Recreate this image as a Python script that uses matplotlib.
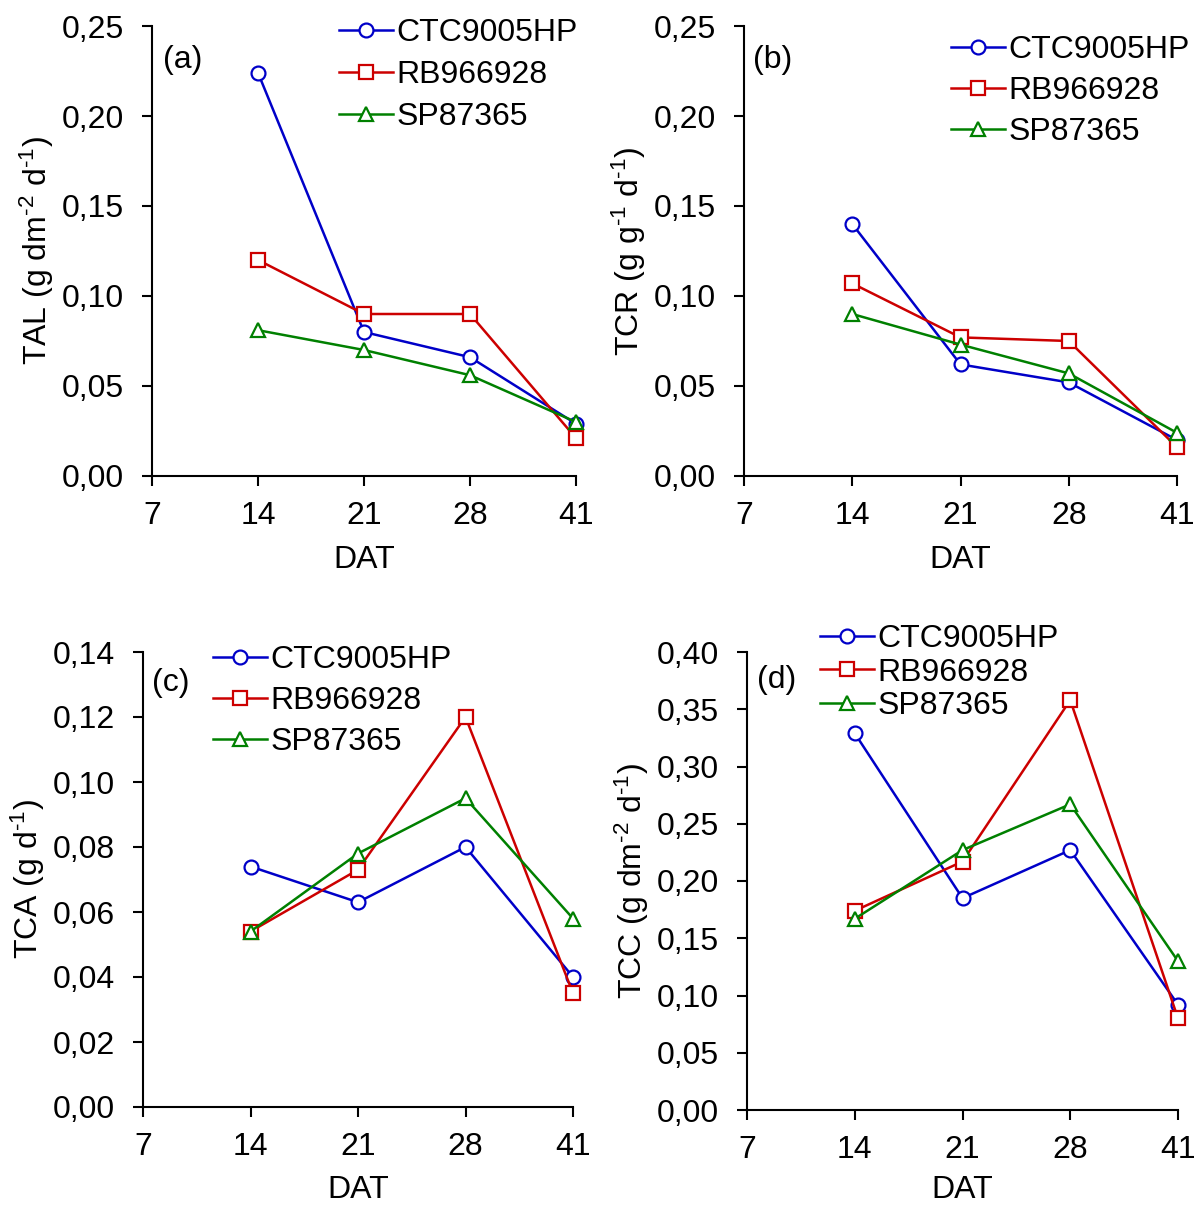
import numpy as np
import matplotlib
matplotlib.use("Agg")
import matplotlib.pyplot as plt
from matplotlib.ticker import FuncFormatter

plt.rcParams['font.family'] = ['Liberation Sans', 'DejaVu Sans']
plt.rcParams['mathtext.default'] = 'regular'
plt.rcParams['font.size'] = 23

#%% datos
dat_labels = ['7', '14', '21', '28', '41']
cultivares = ['CTC9005HP', 'RB966928', 'SP87365']

tal_ctc = [0.224, 0.080, 0.066, 0.029]
tal_rb = [0.120, 0.090, 0.090, 0.021]
tal_sp = [0.081, 0.070, 0.056, 0.030]

tcr_ctc = [0.140, 0.062, 0.052, 0.020]
tcr_rb = [0.107, 0.077, 0.075, 0.016]
tcr_sp = [0.090, 0.073, 0.057, 0.024]

tca_ctc = [0.074, 0.063, 0.080, 0.040]
tca_rb = [0.054, 0.073, 0.120, 0.035]
tca_sp = [0.054, 0.078, 0.095, 0.058]

tcc_ctc = [0.329, 0.185, 0.227, 0.092]
tcc_rb = [0.174, 0.217, 0.358, 0.080]
tcc_sp = [0.167, 0.227, 0.267, 0.130]

colores = ['#0000C8', '#CC0000', '#008000']
marcadores = ['o', 's', '^']

W, H = 1203, 1205
fig = plt.figure(figsize=(W / 100, H / 100), dpi=100)


def px_ax(left, right, bottom, top):
    return [left / W, 1 - bottom / H, (right - left) / W, (bottom - top) / H]


hy = '\u2010'  # guion como en el original
paneles = [
    dict(pos=px_ax(152, 576, 476, 26), datos=[tal_ctc, tal_rb, tal_sp], ymax=0.25, paso=0.05,
         ylabel=f'TAL (g dm$^{{{hy}2}}$ d$^{{{hy}1}}$)', letra='(a)', letra_xy=(163, 60),
         leg_xy=(339, 18), leg_sp=0.38, xlpad=10),
    dict(pos=px_ax(744, 1177, 476, 26), datos=[tcr_ctc, tcr_rb, tcr_sp], ymax=0.25, paso=0.05,
         ylabel=f'TCR (g g$^{{{hy}1}}$ d$^{{{hy}1}}$)', letra='(b)', letra_xy=(753, 60),
         leg_xy=(951, 35), leg_sp=0.34, xlpad=10),
    dict(pos=px_ax(143, 573, 1107, 652), datos=[tca_ctc, tca_rb, tca_sp], ymax=0.14, paso=0.02,
         ylabel=f'TCA (g d$^{{{hy}1}}$)', letra='(c)', letra_xy=(152, 683),
         leg_xy=(213, 645), leg_sp=0.34, xlpad=9),
    dict(pos=px_ax(747, 1178, 1110, 652), datos=[tcc_ctc, tcc_rb, tcc_sp], ymax=0.40, paso=0.05,
         ylabel=f'TCC (g dm$^{{{hy}2}}$ d$^{{{hy}1}}$)', letra='(d)', letra_xy=(757, 680),
         leg_xy=(820, 624), leg_sp=0.11, xlpad=7),
]

x = np.arange(1, 5)

for p in paneles:
    ax = fig.add_axes(p['pos'])
    for serie, nombre, c, m in zip(p['datos'], cultivares, colores, marcadores):
        ax.plot(x, serie, color=c, marker=m, markersize=10, markerfacecolor='white',
                markeredgewidth=1.6, linewidth=1.8, label=nombre, clip_on=False, zorder=3)
    ax.set_xlim(0, 4)
    ax.set_ylim(0, p['ymax'])
    ax.set_xticks(np.arange(5))
    ax.set_xticklabels(dat_labels)
    ax.set_yticks(np.arange(0, p['ymax'] + 1e-9, p['paso']))
    ax.yaxis.set_major_formatter(FuncFormatter(lambda v, pos: f"{v:.2f}".replace('.', ',')))
    ax.spines['top'].set_visible(False)
    ax.spines['right'].set_visible(False)
    ax.spines['left'].set_linewidth(1.5)
    ax.spines['bottom'].set_linewidth(1.5)
    ax.tick_params(direction='out', length=7, width=1.5, labelsize=23)
    ax.tick_params(axis='y', pad=13)
    ax.tick_params(axis='x', pad=11)
    ax.set_xlabel('DAT', fontsize=23, labelpad=p['xlpad'])
    ax.set_ylabel(p['ylabel'], fontsize=23, labelpad=4)
    ax.text(p['letra_xy'][0] / W, 1 - p['letra_xy'][1] / H, p['letra'], transform=fig.transFigure,
            fontsize=23, ha='left', va='center')
    ax.legend(loc='upper left', bbox_to_anchor=(p['leg_xy'][0] / W, 1 - p['leg_xy'][1] / H),
              bbox_transform=fig.transFigure, frameon=False, fontsize=23, borderpad=0,
              handlelength=1.7, handletextpad=0.1, labelspacing=p['leg_sp'], borderaxespad=0)

fig.savefig('out.png', dpi=100)
